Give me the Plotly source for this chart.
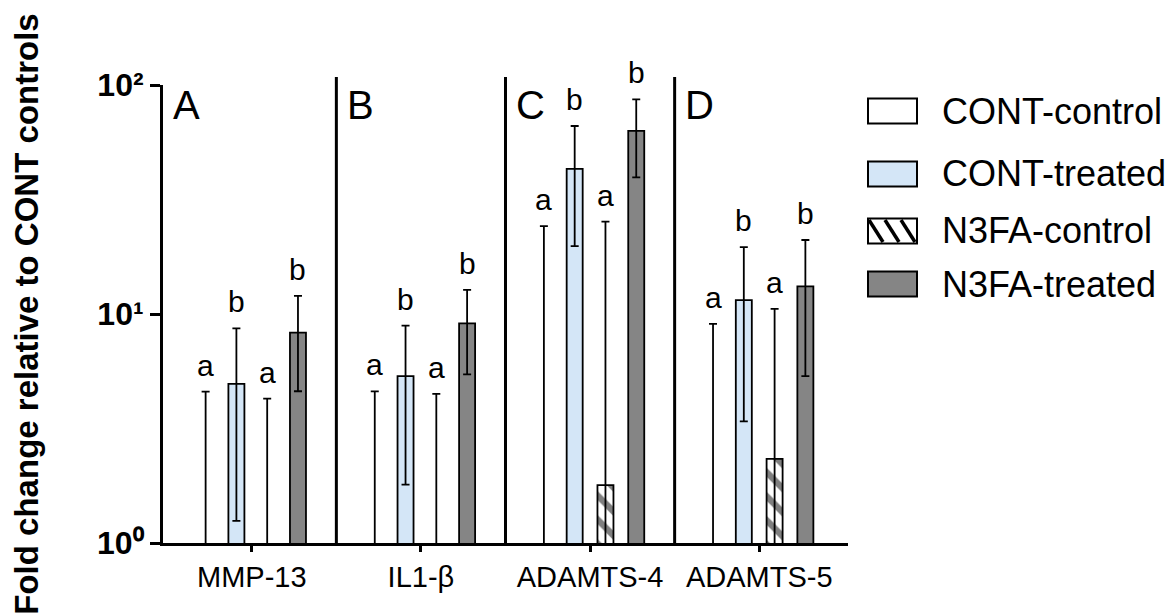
import math
import plotly.graph_objects as go

# ---------------- data ----------------
categories = ["MMP-13", "IL1-β", "ADAMTS-4", "ADAMTS-5"]
series_names = ["CONT-control", "CONT-treated", "N3FA-control", "N3FA-treated"]

cont_control = [1.0, 1.0, 1.0, 1.0]
cont_control_err = [3.58, 3.59, 23.2, 8.06]
cont_treated = [4.95, 5.35, 43.0, 11.5]
cont_treated_err = [3.7, 3.55, 23.2, 8.1]
n3fa_control = [1.0, 1.0, 1.79, 2.33]
n3fa_control_err = [3.27, 3.48, 23.5, 8.2]
n3fa_treated = [8.3, 9.1, 63.0, 13.2]
n3fa_treated_err = [3.7, 3.65, 23.5, 7.85]

sig_letters = ["a", "b", "a", "b"]          # one per series, same in every panel
panel_labels = ["A", "B", "C", "D"]
y_tick_values = [1, 10, 100]
y_tick_labels = ["10⁰", "10¹", "10²"]
y_title = "Fold change relative to CONT controls"

# ---------------- styling ----------------
FONT = "Liberation Sans, Arial, sans-serif"
OFF = 8                      # page body margin
W, H = 1165, 608
ML, MR, MT, MB = 155, 325, 77, 73
PW, PH = W - ML - MR, H - MT - MB
BARGAP, BARGROUPGAP = 0.272, 0.48

styles = [
    dict(color="white"),
    dict(color="#d4e6f7"),
    dict(color="white", pattern=dict(shape="\\", fgcolor="black", bgcolor="white",
                                     size=17, solidity=0.38, fillmode="overlay")),
    dict(color="#858585"),
]

values = [cont_control, cont_treated, n3fa_control, n3fa_treated]
errors = [cont_control_err, cont_treated_err, n3fa_control_err, n3fa_treated_err]
xpos = list(range(len(categories)))

fig = go.Figure()
for name, vals, errs, st in zip(series_names, values, errors, styles):
    # bars sitting exactly on the baseline get no outline (no stub drawn on the axis)
    lw = [0 if v <= 1 else 1.8 for v in vals]
    marker = dict(color=st["color"], line=dict(color="black", width=lw))
    if "pattern" in st:
        marker["pattern"] = st["pattern"]
    fig.add_trace(go.Bar(
        name=name, x=xpos, y=vals, marker=marker, showlegend=False,
        error_y=dict(type="data", array=errs, visible=True, color="black",
                     thickness=1.8, width=4),
    ))

annotations = []
slot = (1 - BARGAP) / len(series_names)
for j, (vals, errs) in enumerate(zip(values, errors)):
    for i in xpos:
        annotations.append(dict(
            x=i + (j - 1.5) * slot, y=math.log10(vals[i] + errs[i]),
            xref="x", yref="y", text=sig_letters[j], showarrow=False,
            yanchor="bottom", yshift=8, font=dict(family=FONT, size=30, color="black"),
        ))

XMIN, XMAX = -0.525, 3.525
for i, lab in enumerate(panel_labels):
    left = XMIN if i == 0 else i - 0.5
    annotations.append(dict(
        x=left + 0.05, y=1 - 20 / PH, xref="x", yref="paper",
        text=lab, showarrow=False, xanchor="left", yanchor="middle",
        font=dict(family=FONT, size=40, color="black"),
    ))

shapes = []
for i in xpos[:-1]:
    shapes.append(dict(type="line", xref="x", yref="paper", x0=i + 0.5, x1=i + 0.5,
                       y0=0, y1=1 + 8 / PH, line=dict(color="black", width=3)))

# manual legend (paper coordinates from screen pixel positions)
def px_x(px):
    return (px - OFF - ML) / PW

def px_y(py):
    return 1 - (py - OFF - MT) / PH

legend_rows = [111, 174, 231, 284]
box_x0, box_x1 = 868, 917
for name, st, yc in zip(series_names, styles, legend_rows):
    shapes.append(dict(type="rect", xref="paper", yref="paper",
                       x0=px_x(box_x0), x1=px_x(box_x1), y0=px_y(yc + 12.5), y1=px_y(yc - 12.5),
                       fillcolor=st["color"], line=dict(color="black", width=2)))
    if "pattern" in st:
        for sx in [868, 884, 900]:
            shapes.append(dict(type="line", xref="paper", yref="paper",
                               x0=px_x(sx + 1), y0=px_y(yc - 11), x1=px_x(sx + 15), y1=px_y(yc + 11),
                               line=dict(color="black", width=3.5)))
    annotations.append(dict(x=px_x(940), y=px_y(yc), xref="paper", yref="paper",
                            text=name, showarrow=False, xanchor="left", yanchor="middle",
                            font=dict(family=FONT, size=36, color="black")))

fig.update_layout(
    width=W, height=H, margin=dict(l=ML, r=MR, t=MT, b=MB),
    paper_bgcolor="white", plot_bgcolor="white",
    barmode="group", bargap=BARGAP, bargroupgap=BARGROUPGAP,
    font=dict(family=FONT, color="black"),
    annotations=annotations, shapes=shapes, showlegend=False,
)
fig.update_xaxes(
    range=[XMIN, XMAX], tickvals=xpos, ticktext=categories,
    showline=True, linecolor="black", linewidth=3, showgrid=False, zeroline=False,
    ticks="outside", ticklen=6, tickwidth=3, tickcolor="black",
    tickfont=dict(family=FONT, size=29, color="black"),
)
fig.update_yaxes(
    type="log", range=[0, 2], tickvals=y_tick_values, ticktext=y_tick_labels,
    showline=True, linecolor="black", linewidth=3, showgrid=False, zeroline=False,
    ticks="outside", ticklen=10, tickwidth=3, tickcolor="black",
    tickfont=dict(family=FONT, size=32, color="black", weight="bold"),
    title=dict(text=y_title, font=dict(family=FONT, size=33, color="black", weight="bold"),
               standoff=50),
)

fig.write_html("out.html")
